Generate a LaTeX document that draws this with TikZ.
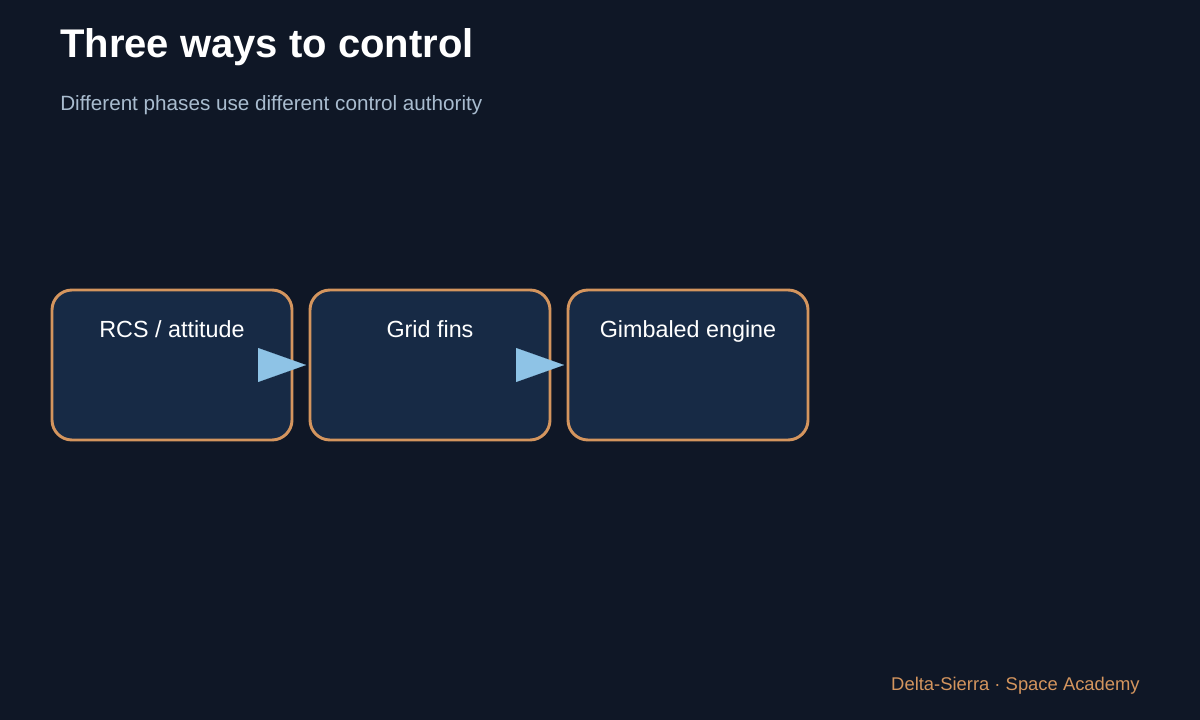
\documentclass[tikz,border=0pt]{standalone}
\usepackage{fontspec}
\setmainfont{Liberation Sans}
\usetikzlibrary{arrows.meta}
\definecolor{bg}{HTML}{0F1726}
\definecolor{boxf}{HTML}{172A45}
\definecolor{boxd}{HTML}{D4955E}
\definecolor{arr}{HTML}{8EC3E6}
\definecolor{sub}{HTML}{A9BCCF}
\begin{document}
\begin{tikzpicture}[x=0.75pt,y=-0.75pt,
  box/.style={draw=boxd,line width=2.2pt,fill=boxf,rounded corners=15pt,minimum width=240*0.75pt,minimum height=150*0.75pt,inner sep=0pt},
  lab/.style={text=white,font=\fontsize{17.5pt}{20pt}\selectfont,anchor=base},
  conn/.style={draw=arr,line width=0.1pt,-{Triangle[length=48*0.75pt,width=34*0.75pt]},fill=arr}]
\fill[bg] (0,0) rectangle (1200,720);
\useasboundingbox (0,0) rectangle (1200,720);
\node[anchor=base west,text=white,font=\bfseries\fontsize{30pt}{34pt}\selectfont,inner sep=0] (t) at (60,58) {Three ways to control};
\node[anchor=base west,text=sub,font=\fontsize{15.5pt}{18pt}\selectfont,inner sep=0] (s) at (60,111) {Different phases use different control authority};
\node[box] (a) at (172,365) {};
\node[box] (b) at (430,365) {};
\node[box] (c) at (688,365) {};
\node[lab] at (172,338) {RCS / attitude};
\node[lab] at (430,338) {Grid fins};
\node[lab] at (688,338) {Gimbaled engine};
\coordinate (a1) at (258,365); \coordinate (a2) at (306,365);
\coordinate (b1) at (516,365); \coordinate (b2) at (564,365);
\draw[conn] (a1) -- (a2);
\draw[conn] (b1) -- (b2);
\node[anchor=base east,text=boxd,font=\fontsize{13.8pt}{16pt}\selectfont,inner sep=0] (f) at (1140,690) {Delta-Sierra · Space Academy};
\end{tikzpicture}
\end{document}
